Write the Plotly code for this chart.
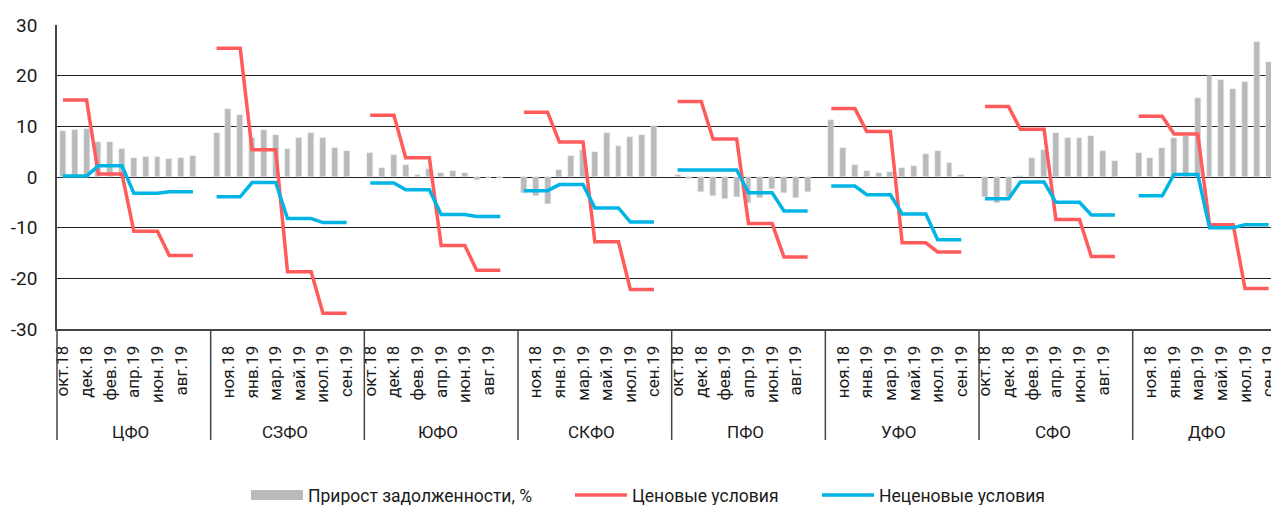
import plotly.graph_objects as go

regions = ["ЦФО", "СЗФО", "ЮФО", "СКФО", "ПФО", "УФО", "СФО", "ДФО"]
months = ["окт.18", "ноя.18", "дек.18", "янв.19", "фев.19", "мар.19",
          "апр.19", "май.19", "июн.19", "июл.19", "авг.19", "сен.19"]
y_ticks = [-30, -20, -10, 0, 10, 20, 30]
y_ticktext = ["-30", "-20", "-10", "0", "10", "20", "30"]

# Прирост задолженности, % (bars)
debt_cfo = [9.1, 9.2, 9.4, 6.9, 7.0, 5.5, 3.7, 3.9, 3.9, 3.5, 3.7, 4.2]
debt_szfo = [8.6, 13.5, 12.2, 7.7, 9.2, 8.2, 5.6, 7.7, 8.7, 7.6, 5.8, 5.2]
debt_yufo = [4.7, 1.8, 4.4, 2.4, 0.3, 1.5, 0.8, 1.1, 0.8, -0.5, -0.2, -0.1]
debt_skfo = [-3.2, -3.7, -5.4, 1.3, 4.2, 5.3, 5.0, 8.7, 6.1, 7.8, 8.2, 10.1]
debt_pfo = [0.4, -0.3, -2.9, -3.7, -4.4, -3.9, -5.2, -4.2, -2.4, -3.2, -4.1, -3.0]
debt_ufo = [11.2, 5.8, 2.4, 1.2, 0.8, 1.0, 1.7, 2.2, 4.6, 5.1, 2.7, 0.4]
debt_sfo = [-3.9, -5.2, -3.9, 0.1, 3.8, 5.3, 8.6, 7.6, 7.7, 8.0, 5.2, 3.1]
debt_dfo = [4.8, 3.7, 5.8, 7.7, 8.0, 15.6, 19.9, 19.2, 17.4, 18.8, 26.7, 22.7]

# Ценовые условия
price_cfo = [15.2, 15.2, 15.2, 0.6, 0.6, 0.6, -10.7, -10.7, -10.7, -15.5, -15.5, -15.5]
price_szfo = [25.4, 25.4, 25.4, 5.4, 5.4, 5.4, -18.7, -18.7, -18.7, -26.9, -26.9, -26.9]
price_yufo = [12.2, 12.2, 12.2, 3.8, 3.8, 3.8, -13.5, -13.5, -13.5, -18.4, -18.4, -18.4]
price_skfo = [12.8, 12.8, 12.8, 6.9, 6.9, 6.9, -12.8, -12.8, -12.8, -22.2, -22.2, -22.2]
price_pfo = [14.9, 14.9, 14.9, 7.5, 7.5, 7.5, -9.2, -9.2, -9.2, -15.8, -15.8, -15.8]
price_ufo = [13.5, 13.5, 13.5, 9.0, 9.0, 9.0, -13.0, -13.0, -13.0, -14.8, -14.8, -14.8]
price_sfo = [13.9, 13.9, 13.9, 9.4, 9.4, 9.4, -8.4, -8.4, -8.4, -15.7, -15.7, -15.7]
price_dfo = [12.0, 12.0, 12.0, 8.5, 8.5, 8.5, -9.4, -9.4, -9.4, -22.0, -22.0, -22.0]

# Неценовые условия
nonprice_cfo = [0.2, 0.2, 0.2, 2.2, 2.2, 2.2, -3.2, -3.2, -3.2, -2.9, -2.9, -2.9]
nonprice_szfo = [-3.9, -3.9, -3.9, -1.1, -1.1, -1.1, -8.2, -8.2, -8.2, -9.0, -9.0, -9.0]
nonprice_yufo = [-1.2, -1.2, -1.2, -2.5, -2.5, -2.5, -7.4, -7.4, -7.4, -7.8, -7.8, -7.8]
nonprice_skfo = [-2.7, -2.7, -2.7, -1.5, -1.5, -1.5, -6.1, -6.1, -6.1, -8.9, -8.9, -8.9]
nonprice_pfo = [1.4, 1.4, 1.4, 1.4, 1.4, 1.4, -3.1, -3.1, -3.1, -6.7, -6.7, -6.7]
nonprice_ufo = [-1.8, -1.8, -1.8, -3.5, -3.5, -3.5, -7.3, -7.3, -7.3, -12.4, -12.4, -12.4]
nonprice_sfo = [-4.3, -4.3, -4.3, -1.0, -1.0, -1.0, -5.0, -5.0, -5.0, -7.5, -7.5, -7.5]
nonprice_dfo = [-3.7, -3.7, -3.7, 0.5, 0.5, 0.5, -10.0, -10.0, -10.0, -9.4, -9.4, -9.4]

debt = [debt_cfo, debt_szfo, debt_yufo, debt_skfo, debt_pfo, debt_ufo, debt_sfo, debt_dfo]
price = [price_cfo, price_szfo, price_yufo, price_skfo, price_pfo, price_ufo, price_sfo, price_dfo]
nonprice = [nonprice_cfo, nonprice_szfo, nonprice_yufo, nonprice_skfo,
            nonprice_pfo, nonprice_ufo, nonprice_sfo, nonprice_dfo]

GRAY = "#bababa"
RED = "#ff5b5b"
BLUE = "#00b5e5"
FONT = "Roboto"
STEP = 13  # 12 months + one empty slot per region
X_MAX = 102.2
W, H = 1271, 505

bar_x, bar_y, price_x, price_y, non_x, non_y = [], [], [], [], [], []
tickvals, ticktext = [], []
for g in range(len(regions)):
    for j, m in enumerate(months):
        pos = g * STEP + j
        bar_x.append(pos)
        bar_y.append(debt[g][j])
        price_x.append(pos)
        price_y.append(price[g][j])
        non_x.append(pos)
        non_y.append(nonprice[g][j])
        if pos % 2 == 0:
            tickvals.append(pos)
            ticktext.append(m)
    # break the lines between regions
    price_x.append(None)
    price_y.append(None)
    non_x.append(None)
    non_y.append(None)

fig = go.Figure()
fig.add_trace(go.Bar(x=bar_x, y=bar_y, width=0.5, marker_color=GRAY,
                     name="Прирост задолженности, %", showlegend=False))
fig.add_trace(go.Scatter(x=[None], y=[None], mode="lines",
                         line=dict(color=GRAY, width=10),
                         name="Прирост задолженности, %", legend="legend"))
fig.add_trace(go.Scatter(x=price_x, y=price_y, mode="lines",
                         line=dict(color=RED, width=3.5),
                         name="Ценовые условия", legend="legend2"))
fig.add_trace(go.Scatter(x=non_x, y=non_y, mode="lines",
                         line=dict(color=BLUE, width=3.5),
                         name="Неценовые условия", legend="legend3"))

span = X_MAX + 0.5
shapes = []
for g in range(len(regions)):
    xp = (g * STEP) / span
    shapes.append(dict(type="line", xref="paper", yref="paper",
                       x0=xp, x1=xp, y0=0, y1=-0.365,
                       line=dict(color="#444", width=1.5)))

annotations = []
for g, r in enumerate(regions):
    annotations.append(dict(x=g * STEP + 5.75, y=-0.34, xref="x", yref="paper",
                            text=r, showarrow=False, yanchor="middle",
                            font=dict(size=17, color="#1a1a1a", family=FONT)))


def legend_box(left_px):
    return dict(orientation="h", x=left_px / W, xanchor="left", xref="container",
                y=(H - 495) / H, yanchor="middle", yref="container",
                font=dict(size=17.5, color="#1a1a1a"), itemwidth=52,
                bgcolor="rgba(0,0,0,0)")


fig.update_layout(
    width=W, height=H,
    margin=dict(l=57, r=0, t=25, b=176),
    plot_bgcolor="white", paper_bgcolor="white",
    font=dict(family=FONT, color="#1a1a1a"),
    bargap=0,
    shapes=shapes,
    annotations=annotations,
    legend=legend_box(246),
    legend2=legend_box(570),
    legend3=legend_box(817),
    xaxis=dict(range=[-0.5, X_MAX], tickvals=tickvals, ticktext=ticktext,
               tickangle=-90, tickfont=dict(size=17), showgrid=False,
               showline=True, linecolor="#444", linewidth=2,
               ticklabelstandoff=8, ticklabeloverflow="allow",
               zeroline=False, automargin=False),
    yaxis=dict(range=[-30, 30], tickvals=y_ticks, ticktext=y_ticktext,
               tickfont=dict(size=19),
               showgrid=True, gridcolor="#222", gridwidth=1,
               zeroline=True, zerolinecolor="#222", zerolinewidth=1,
               showline=True, linecolor="#444", linewidth=1.5,
               ticklabelstandoff=14, automargin=False),
)

fig.write_html("out.html", config={"displayModeBar": False},
               post_script="document.body.style.margin='0';"
                           "document.body.style.overflow='hidden';")
